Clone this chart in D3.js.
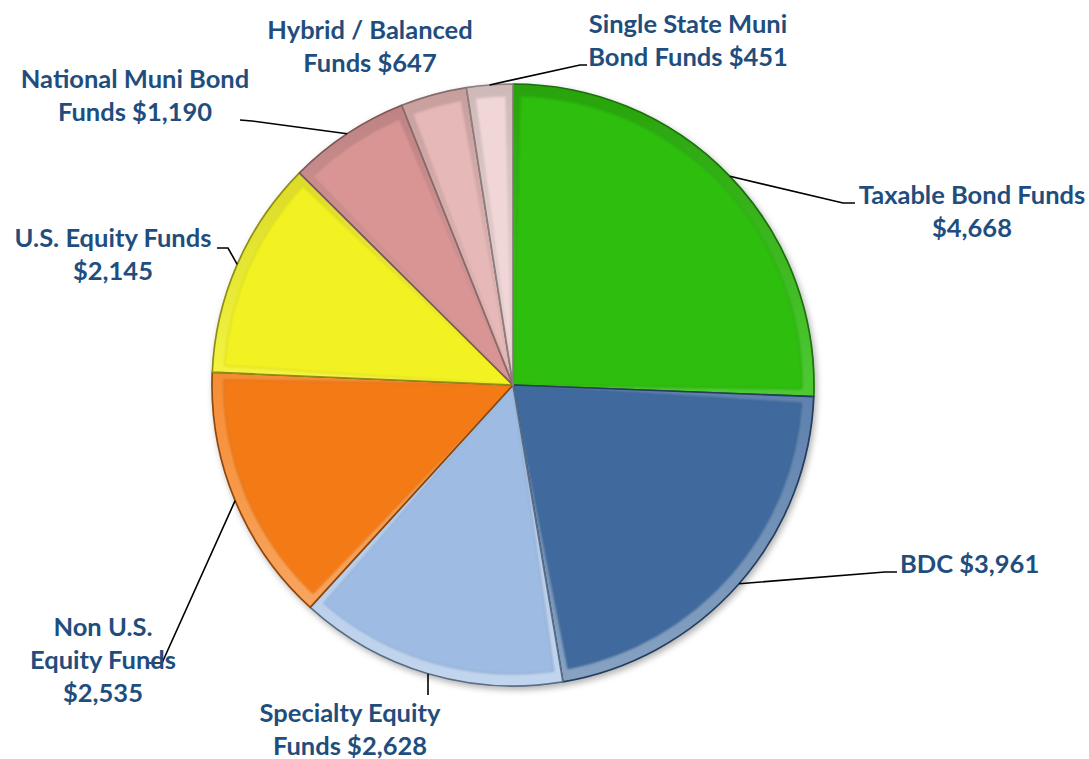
<!DOCTYPE html>
<html>
<head>
<meta charset="utf-8">
<script src="https://cdn.jsdelivr.net/npm/d3@7"></script>
<style>
  html, body { margin: 0; padding: 0; background: #ffffff; }
  svg { display: block; }
  text { font-family: Lato, "Open Sans", sans-serif; font-weight: 700; fill: #1F4E7E; }
</style>
</head>
<body>
<svg id="chart" width="1089" height="759"></svg>
<script>
// ---- data ----
const categories = ["Taxable Bond Funds", "BDC", "Specialty Equity Funds", "Non U.S. Equity Funds",
                    "U.S. Equity Funds", "National Muni Bond Funds", "Hybrid / Balanced Funds", "Single State Muni Bond Funds"];
const values = [4668, 3961, 2628, 2535, 2145, 1190, 647, 451];
const labelLines = [
  ["Taxable Bond Funds", "$4,668"],
  ["BDC $3,961"],
  ["Specialty Equity", "Funds $2,628"],
  ["Non U.S.", "Equity Funds", "$2,535"],
  ["U.S. Equity Funds", "$2,145"],
  ["National Muni Bond", "Funds $1,190"],
  ["Hybrid / Balanced", "Funds $647"],
  ["Single State Muni", "Bond Funds $451"]
];
const colors = ["#2EBE0E", "#3F6A9E", "#9DBBE3", "#F47A14", "#F2F222", "#D99594", "#E6B8B7", "#F0D6D6"];

// ---- layout (label anchors / leader elbows) ----
const cx = 513, cy = 385, R = 301;
const labelLayout = [
  { x: 972, y: 204, anchor: "middle", elbow: [843, 203], end: [855, 203] },
  { x: 900, y: 573, anchor: "start", elbow: [885, 572], end: [897, 572] },
  { x: 350, y: 722, anchor: "middle", elbow: null, end: [428, 695] },
  { x: 103, y: 636, anchor: "middle", elbow: [162, 663], end: [149, 663] },
  { x: 113, y: 247, anchor: "middle", elbow: [228, 248], end: [217, 248] },
  { x: 135, y: 88, anchor: "middle", elbow: [252, 121], end: [240, 120] },
  { x: 370, y: 39, anchor: "middle", elbow: null, end: null },
  { x: 688, y: 33, anchor: "middle", elbow: [580, 65], end: [587, 65] }
];
const lineHeight = 33;

const svg = d3.select("#chart");
const defs = svg.append("defs");
const shadow = defs.append("filter").attr("id", "shadow")
  .attr("x", "-10%").attr("y", "-10%").attr("width", "120%").attr("height", "120%");
shadow.append("feDropShadow").attr("dx", 2).attr("dy", 3).attr("stdDeviation", 3)
  .attr("flood-color", "#000").attr("flood-opacity", 0.3);
const soft = defs.append("filter").attr("id", "soft")
  .attr("x", "-10%").attr("y", "-10%").attr("width", "120%").attr("height", "120%");
soft.append("feGaussianBlur").attr("stdDeviation", 1.3);

const pie = d3.pie().sort(null).value(d => d)(values);
const arcOuter = d3.arc().innerRadius(0).outerRadius(R);
const arcInner = d3.arc().innerRadius(0).outerRadius(R - 12).padAngle(0.05).padRadius(R - 12);

const g = svg.append("g").attr("transform", `translate(${cx},${cy})`);
const pieG = g.append("g").attr("filter", "url(#shadow)");

pie.forEach((d, i) => {
  const c = d3.color(colors[i]);
  const gid = "rim" + i;
  const grad = defs.append("linearGradient").attr("id", gid)
    .attr("gradientUnits", "userSpaceOnUse")
    .attr("x1", 0).attr("y1", -R).attr("x2", 0).attr("y2", R);
  grad.append("stop").attr("offset", 0).attr("stop-color", d3.interpolateRgb(colors[i], "#000")(0.14));
  grad.append("stop").attr("offset", 0.5).attr("stop-color", d3.interpolateRgb(colors[i], "#fff")(0.15));
  grad.append("stop").attr("offset", 1).attr("stop-color", d3.interpolateRgb(colors[i], "#fff")(0.38));

  const clipId = "clip" + i;
  defs.append("clipPath").attr("id", clipId).append("path").attr("d", arcOuter(d));

  const sg = pieG.append("g");
  sg.append("path").attr("d", arcOuter(d)).attr("fill", `url(#${gid})`);
  const inner = sg.append("g").attr("clip-path", `url(#${clipId})`);
  inner.append("path").attr("d", arcInner(d))
    .attr("fill", colors[i]).attr("filter", "url(#soft)")
    .attr("stroke", d3.interpolateRgb(colors[i], "#000")(0.12)).attr("stroke-width", 1);
  sg.append("path").attr("d", arcOuter(d))
    .attr("fill", "none")
    .attr("stroke", c.darker(1.5)).attr("stroke-width", 1.7).attr("stroke-linejoin", "round");
});

// leader lines
pie.forEach((d, i) => {
  const L = labelLayout[i];
  if (!L.end) return;
  const mid = (d.startAngle + d.endAngle) / 2;
  const sx = cx + R * Math.sin(mid), sy = cy - R * Math.cos(mid);
  const pts = [[sx, sy]];
  if (L.elbow) pts.push(L.elbow);
  pts.push(L.end);
  svg.append("path").attr("d", d3.line()(pts))
    .attr("fill", "none").attr("stroke", "#000").attr("stroke-width", 1.6);
});

// labels
labelLayout.forEach((L, i) => {
  const t = svg.append("text").attr("x", L.x).attr("y", L.y)
    .attr("text-anchor", L.anchor).attr("font-size", 25.5);
  labelLines[i].forEach((s, k) => {
    t.append("tspan").attr("x", L.x).attr("dy", k === 0 ? 0 : lineHeight).text(s);
  });
});
</script>
</body>
</html>
